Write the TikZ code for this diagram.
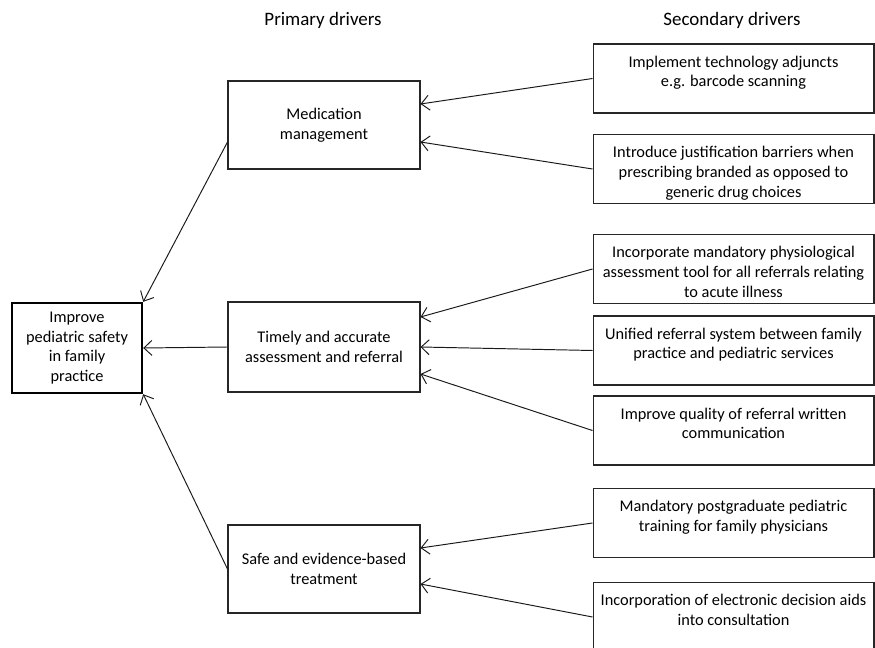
\documentclass[tikz,border=0pt]{standalone}
\usepackage{fontspec}
\setmainfont{Carlito}
\usetikzlibrary{arrows.meta,calc}
\begin{document}
\begin{tikzpicture}[x=0.02cm,y=-0.02cm,
  boxtext/.style={font=\fontsize{9.3}{11.2}\selectfont,align=center},
  goalbox/.style={draw=black,line width=1.4pt,minimum width=2.6cm,minimum height=1.8cm,boxtext,inner sep=1pt},
  primbox/.style={draw=black!85,line width=0.6pt,minimum width=3.84cm,boxtext},
  secbox/.style={draw=black!85,line width=0.6pt,minimum width=5.62cm,minimum height=1.38cm},
  sectext/.style={boxtext,anchor=north,inner sep=0pt},
  header/.style={font=\fontsize{10.8}{12.5}\selectfont},
  arr/.style={draw=black!90,line width=0.55pt,-{Straight Barb[length=1.6mm,width=3mm]}}]
\useasboundingbox (0,0) rectangle (875,648);
\clip (0,0) rectangle (875,648);
\node[header] (h1) at (323,20) {Primary drivers};
\node[header] (h2) at (732,20) {Secondary drivers};
% goal
\node[goalbox] (goal) at (77,348) {Improve\\pediatric safety\\in family\\practice};
% primary
\node[primbox,minimum height=1.76cm] (med) at (324,125) {Medication\\management};
\node[primbox,minimum height=1.8cm] (tim) at (324,347) {Timely and accurate\\assessment and referral};
\node[primbox,minimum height=1.76cm] (safe) at (324,569) {Safe and evidence-based\\treatment};
% secondary
\node[secbox] (s1) at (733.5,78.5) {};
\node[secbox] (s2) at (733.5,169) {};
\node[secbox] (s3) at (733.5,269) {};
\node[secbox] (s4) at (733.5,350.5) {};
\node[secbox] (s5) at (733.5,430.5) {};
\node[secbox] (s6) at (733.5,523) {};
\node[secbox] (s7) at (733.5,617) {};
\node[sectext] (t1) at ($(s1.north)+(0,12)$) {Implement technology adjuncts\\e.g. barcode scanning};
\node[sectext] (t2) at ($(s2.north)+(0,12)$) {Introduce justification barriers when\\prescribing branded as opposed to\\generic drug choices};
\node[sectext] (t3) at ($(s3.north)+(0,12)$) {Incorporate mandatory physiological\\assessment tool for all referrals relating\\to acute illness};
\node[sectext] (t4) at ($(s4.north)+(0,12)$) {Unified referral system between family\\practice and pediatric services};
\node[sectext] (t5) at ($(s5.north)+(0,12)$) {Improve quality of referral written\\communication};
\node[sectext] (t6) at ($(s6.north)+(0,12)$) {Mandatory postgraduate pediatric\\training for family physicians};
\node[sectext] (t7) at ($(s7.north)+(0,12)$) {Incorporation of electronic decision aids\\into consultation};
% arrows secondary -> primary
\draw[arr] (s1.west) -- ($(med.east)+(0,-21)$);
\draw[arr] (s2.west) -- ($(med.east)+(0,17)$);
\draw[arr] (s3.west) -- ($(tim.east)+(0,-30)$);
\draw[arr] (s4.west) -- (tim.east);
\draw[arr] (s5.west) -- ($(tim.east)+(0,27)$);
\draw[arr] (s6.west) -- ($(safe.east)+(0,-21)$);
\draw[arr] (s7.west) -- ($(safe.east)+(0,15)$);
% primary -> goal
\draw[arr] ($(med.west)+(0,17)$) -- (goal.north east);
\draw[arr] (tim.west) -- (goal.east);
\draw[arr] (safe.west) -- (goal.south east);
\end{tikzpicture}
\end{document}
